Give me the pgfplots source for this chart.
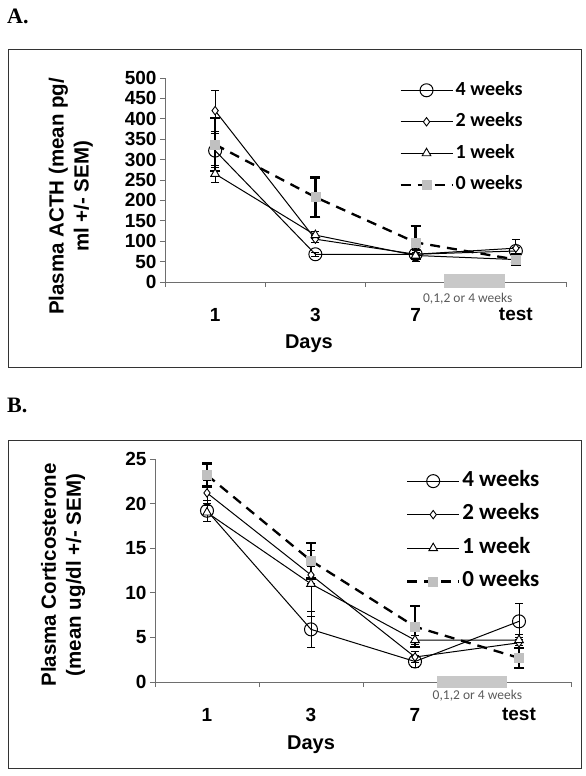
\documentclass[border=0pt]{standalone}
\usepackage{fontspec}
\setmainfont{Liberation Sans}
\newfontfamily\carlito{Carlito}
\newfontfamily\serifb{Liberation Serif}
\usepackage{pgfplots}
\pgfplotsset{compat=1.18}
\usepackage{pgfplotstable}

% Panel A: ACTH (x: 0=day1, 1=day3, 2=day7, 3=test)
\pgfplotstableread{
x y e
0 322 42
1 68 5
2 68 8
3 76 8
}\Afour
\pgfplotstableread{
x y e
0 420 50
1 105 8
2 68 5
3 83 20
}\Atwo
\pgfplotstableread{
x y e
0 265 20
1 115 8
2 65 15
3 55 8
}\Aone
\pgfplotstableread{
x y e
0 337 65
1 208 48
2 97 40
3 55 12
}\Azero

% Panel B: corticosterone
\pgfplotstableread{
x y e
0 19.2 1.2
1 5.9 2.0
2 2.3 0.7
3 6.8 2.0
}\Bfour
\pgfplotstableread{
x y e
0 21.2 1.4
1 12.0 1.0
2 2.8 0.6
3 4.4 0.6
}\Btwo
\pgfplotstableread{
x y e
0 19.0 1.0
1 11.0 3.7
2 4.7 0.5
3 4.7 0.6
}\Bone
\pgfplotstableread{
x y e
0 23.2 1.3
1 13.6 2.0
2 6.2 2.3
3 2.7 1.1
}\Bzero

\definecolor{markgray}{RGB}{192,192,192}
\definecolor{boxgray}{RGB}{200,200,200}
\definecolor{notegray}{RGB}{90,90,90}
\definecolor{axgray}{RGB}{110,110,110}

\pgfplotsset{
  excel/.style={
    scale only axis,
    axis x line*=bottom, axis y line*=left,
    axis line style={axgray, line width=0.9pt},
    xmin=-0.5, xmax=3.5,
    xtick={0,1,2,3}, xticklabels={1,3,7,test},
    major x tick style={draw=none},
    minor xtick={-0.5,0.5,1.5,2.5,3.5},
    minor tick length=5pt, major tick length=5pt,
    tick align=outside,
    tick style={axgray, line width=0.9pt},
    /pgf/number format/assume math mode=true,
    ticklabel style={font=\bfseries\fontsize{19}{19}\selectfont},
    xticklabel style={font=\bfseries\fontsize{19}{19}\selectfont, yshift=-18pt},
    clip=false,
    legend cell align=left,
    legend style={draw=none, fill=none, inner sep=0pt, anchor=north west,
      row sep=13.5pt, nodes={inner ysep=0pt, text height=14pt, text depth=4pt}},
  },
  longleg/.style={
    legend image code/.code={
      \draw[mark repeat=2,mark phase=2] plot coordinates {(0pt,0pt) (26pt,0pt) (52pt,0pt)};
    }
  },
  four/.style={longleg, black, line width=1pt, mark=o, mark size=6.5pt,
    mark options={fill=white, solid, line width=1pt},
    error bars/.cd, y dir=both, y explicit,
    error bar style={black, line width=1pt},
    error mark options={rotate=90, mark size=4pt, black, line width=1pt}},
  two/.style={longleg, black, line width=1pt, mark=diamond*, mark size=4.2pt,
    mark options={fill=white, solid, line width=0.9pt},
    error bars/.cd, y dir=both, y explicit,
    error bar style={black, line width=1pt},
    error mark options={rotate=90, mark size=4pt, black, line width=1pt}},
  one/.style={longleg, black, line width=1pt, mark=triangle*, mark size=5pt,
    mark options={fill=white, solid, line width=0.9pt},
    error bars/.cd, y dir=both, y explicit,
    error bar style={black, line width=1pt},
    error mark options={rotate=90, mark size=4pt, black, line width=1pt}},
  zero/.style={longleg, black, line width=2.3pt, dash pattern=on 10pt off 7pt,
    mark=square*, mark size=4.5pt,
    mark options={fill=markgray, draw=markgray, solid, line width=0.5pt},
    error bars/.cd, y dir=both, y explicit,
    error bar style={black, line width=2.4pt, solid},
    error mark options={rotate=90, mark size=5pt, black, line width=2.4pt, solid}},
}

\begin{document}
\begin{tikzpicture}
\path[use as bounding box] (0,0) rectangle (586pt,-776pt);

% ---------- Panel A ----------
\node[anchor=west, inner sep=0pt, font=\serifb\bfseries\fontsize{22}{22}\selectfont] at (7pt,-16pt) {A.};
\draw[black!80, line width=1pt] (8pt,-50pt) rectangle (581pt,-367pt);

\begin{axis}[excel,
  at={(165pt,-282pt)}, anchor=south west,
  width=401pt, height=204pt,
  ymin=0, ymax=500, ytick={0,50,...,500},
  xlabel={Days},
  xlabel style={font=\bfseries\fontsize{20}{20}\selectfont, at={(axis description cs:0.359,-0.30)}, anchor=center},
  ylabel={Plasma ACTH (mean pg/\\ml +/- SEM)},
  ylabel style={font=\bfseries\fontsize{20.5}{25}\selectfont, align=center, at={(axis description cs:-0.235,0.42)}, anchor=center},
  legend style={at={(0.584,0.985)}, font=\carlito\bfseries\fontsize{20}{20}\selectfont},
]
\fill[boxgray] (axis cs:2.28,-15) rectangle (axis cs:2.89,20);
\node[font=\carlito\fontsize{13.5}{13.5}\selectfont, text=notegray, inner sep=1pt] at (axis cs:2.52,-42) {0,1,2 or 4 weeks};
\addplot[four] table[x=x, y=y, y error=e] {\Afour};
\addlegendentry{4 weeks}
\addplot[two] table[x=x, y=y, y error=e] {\Atwo};
\addlegendentry{2 weeks}
\addplot[one] table[x=x, y=y, y error=e] {\Aone};
\addlegendentry{1 week}
\addplot[zero] table[x=x, y=y, y error=e] {\Azero};
\addlegendentry{0 weeks}
\end{axis}

% ---------- Panel B ----------
\node[anchor=west, inner sep=0pt, font=\serifb\bfseries\fontsize{22}{22}\selectfont] at (7pt,-405pt) {B.};
\draw[black!80, line width=1pt] (8pt,-440pt) rectangle (581pt,-768pt);

\begin{axis}[excel,
  at={(155pt,-682pt)}, anchor=south west,
  width=416pt, height=223pt,
  ymin=0, ymax=25, ytick={0,5,...,25},
  xlabel={Days},
  xlabel style={font=\bfseries\fontsize{20}{20}\selectfont, at={(axis description cs:0.375,-0.283)}, anchor=center},
  ylabel={Plasma Corticosterone\\(mean ug/dl +/- SEM)},
  ylabel style={font=\bfseries\fontsize{20.5}{25}\selectfont, align=center, at={(axis description cs:-0.221,0.48)}, anchor=center},
  legend style={at={(0.603,0.942)}, font=\carlito\bfseries\fontsize{23}{23}\selectfont, row sep=15.5pt},
]
\fill[boxgray] (axis cs:2.21,-0.67) rectangle (axis cs:2.88,0.67);
\node[font=\carlito\fontsize{13.5}{13.5}\selectfont, text=notegray, inner sep=1pt] at (axis cs:2.6,-1.5) {0,1,2 or 4 weeks};
\addplot[four] table[x=x, y=y, y error=e] {\Bfour};
\addlegendentry{4 weeks}
\addplot[two] table[x=x, y=y, y error=e] {\Btwo};
\addlegendentry{2 weeks}
\addplot[one] table[x=x, y=y, y error=e] {\Bone};
\addlegendentry{1 week}
\addplot[zero] table[x=x, y=y, y error=e] {\Bzero};
\addlegendentry{0 weeks}
\end{axis}
\end{tikzpicture}
\end{document}
